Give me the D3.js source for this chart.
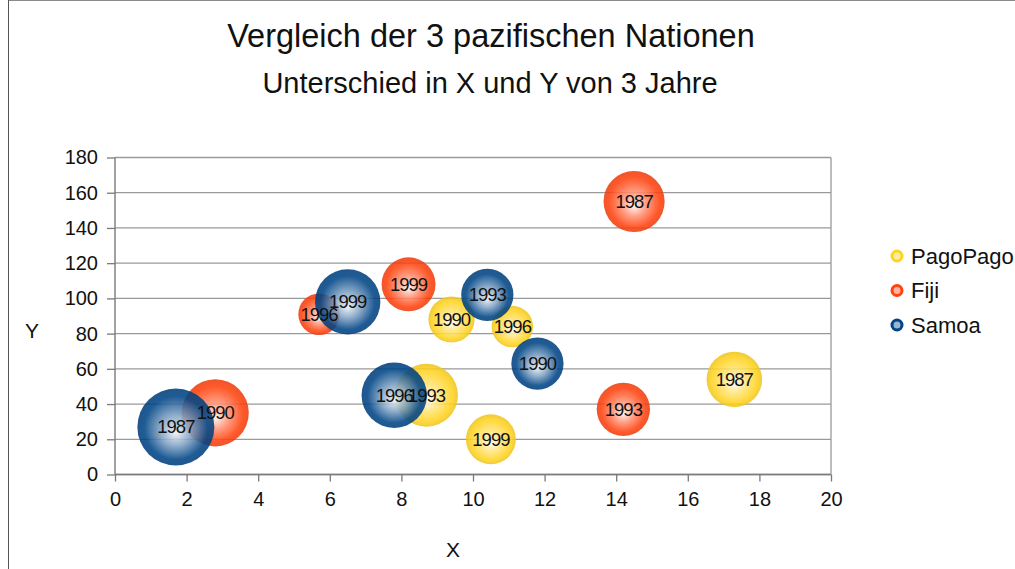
<!DOCTYPE html>
<html>
<head>
<meta charset="utf-8">
<script src="https://cdn.jsdelivr.net/npm/d3@7"></script>
<style>
  html, body { margin: 0; padding: 0; background: #fff; }
  svg { display: block; font-family: "Liberation Sans", Arial, sans-serif; }
</style>
</head>
<body>
<svg id="chart" width="1015" height="569"></svg>
<script>
// Years shown as bubble labels
const years = ["1987", "1990", "1993", "1996", "1999"];

// Series names (legend order) and colours
const seriesNames = ["PagoPago", "Fiji", "Samoa"];
const seriesColors = ["#ffd320", "#ff420e", "#004586"];

// X values per series, one per year
const pagoX = [17.3, 9.4, 8.7, 11.1, 10.5];
const fijiX = [14.5, 2.8, 14.2, 5.7, 8.2];
const samoaX = [1.7, 11.8, 10.4, 7.8, 6.5];

// Y values per series
const pagoY = [54, 88, 45, 84, 20];
const fijiY = [155, 35, 37, 91, 108];
const samoaY = [27, 63, 102, 45, 98];

// Bubble sizes per series (area-proportional)
const pagoSize = [52, 36, 67, 29, 42];
const fijiSize = [63, 76, 48, 29, 49];
const samoaSize = [100, 46, 46, 72, 72];

// Axis ticks
const xTicks = [0, 2, 4, 6, 8, 10, 12, 14, 16, 18, 20];
const yTicks = [0, 20, 40, 60, 80, 100, 120, 140, 160, 180];

const titleText = "Vergleich der 3 pazifischen Nationen";
const subtitleText = "Unterschied in X und Y von 3 Jahre";
const xTitle = "X";
const yTitle = "Y";

const seriesX = [pagoX, fijiX, samoaX];
const seriesY = [pagoY, fijiY, samoaY];
const seriesSize = [pagoSize, fijiSize, samoaSize];

const series = seriesNames.map((name, i) => ({
  name,
  color: seriesColors[i],
  points: years.map((yr, j) => ({
    year: yr, x: seriesX[i][j], y: seriesY[i][j], size: seriesSize[i][j]
  }))
}));

const svg = d3.select("#chart");
const W = 1015, H = 569;

// outer frame (top and left edges visible)
svg.append("line").attr("x1", 8).attr("x2", W).attr("y1", 0.5).attr("y2", 0.5)
  .attr("stroke", "#8a8a8a").attr("stroke-width", 1);
svg.append("line").attr("x1", 8.5).attr("x2", 8.5).attr("y1", 0).attr("y2", H)
  .attr("stroke", "#555").attr("stroke-width", 1);

const plot = { left: 115, right: 831, top: 157.5, bottom: 474.5 };

const x = d3.scaleLinear().domain([0, 20]).range([plot.left, plot.right]);
const y = d3.scaleLinear().domain([0, 180]).range([plot.bottom, plot.top]);
const allSizes = [...pagoSize, ...fijiSize, ...samoaSize];
const r = d3.scaleSqrt().domain([0, d3.max(allSizes)]).range([0, 38.5]);

// gradients: light centre, saturated rim
const defs = svg.append("defs");
const mix = (c, t) => d3.interpolateRgb(c, "#ffffff")(t);
series.forEach((s, i) => {
  const g = defs.append("radialGradient").attr("id", "grad" + i)
    .attr("cx", "50%").attr("cy", "50%").attr("r", "50%")
    .attr("fx", "50%").attr("fy", "58%");
  g.append("stop").attr("offset", "0%").attr("stop-color", mix(s.color, 0.92));
  g.append("stop").attr("offset", "40%").attr("stop-color", mix(s.color, i === 2 ? 0.5 : 0.42));
  g.append("stop").attr("offset", "82%").attr("stop-color", s.color);
  g.append("stop").attr("offset", "100%").attr("stop-color", d3.color(s.color).darker(0.2));
});

// horizontal gridlines
svg.append("g").selectAll("line").data(yTicks).join("line")
  .attr("x1", plot.left).attr("x2", plot.right)
  .attr("y1", d => y(d)).attr("y2", d => y(d))
  .attr("stroke", "#9a9a9a").attr("stroke-width", 1.3);

// right border of plot area
svg.append("line").attr("x1", plot.right).attr("x2", plot.right)
  .attr("y1", plot.top).attr("y2", plot.bottom)
  .attr("stroke", "#9a9a9a").attr("stroke-width", 1.3);

// axes
const xAxis = svg.append("g").attr("transform", `translate(0,${plot.bottom})`)
  .call(d3.axisBottom(x).tickValues(xTicks).tickSize(7).tickPadding(10).tickFormat(d3.format("d")));
const yAxis = svg.append("g").attr("transform", `translate(${plot.left},0)`)
  .call(d3.axisLeft(y).tickValues(yTicks).tickSize(8).tickPadding(9).tickFormat(d3.format("d")));
[xAxis, yAxis].forEach(a => {
  a.select(".domain").attr("stroke", "#7a7a7a").attr("stroke-width", 1.4);
  a.selectAll(".tick line").attr("stroke", "#7a7a7a").attr("stroke-width", 1.3);
  a.selectAll(".tick text").attr("fill", "#111").style("font-size", "20px")
    .style("font-family", "'Liberation Sans', Arial, sans-serif");
});
yAxis.select(".domain").attr("d", `M0,${plot.top}V${plot.bottom}`);
xAxis.select(".domain").attr("d", `M${plot.left},0H${plot.right}`);

// bubbles
const bubbles = svg.append("g");
series.forEach((s, i) => {
  bubbles.append("g").selectAll("circle").data(s.points).join("circle")
    .attr("cx", d => x(d.x)).attr("cy", d => y(d.y)).attr("r", d => r(d.size))
    .attr("fill", `url(#grad${i})`).attr("fill-opacity", 0.88);
});

// year labels
const labels = svg.append("g");
series.forEach(s => {
  labels.append("g").selectAll("text").data(s.points).join("text")
    .attr("x", d => x(d.x)).attr("y", d => y(d.y))
    .attr("text-anchor", "middle").attr("dominant-baseline", "central")
    .attr("fill", "#111").style("font-size", "18.5px").style("letter-spacing", "-1px")
    .text(d => d.year);
});

// titles
svg.append("text").attr("x", 491).attr("y", 47).attr("text-anchor", "middle")
  .style("font-size", "32.5px").attr("fill", "#111").text(titleText);
svg.append("text").attr("x", 490).attr("y", 93).attr("text-anchor", "middle")
  .style("font-size", "29px").attr("fill", "#111").text(subtitleText);
svg.append("text").attr("x", 453).attr("y", 557).attr("text-anchor", "middle")
  .style("font-size", "21px").attr("fill", "#111").text(xTitle);
svg.append("text").attr("x", 32).attr("y", 338).attr("text-anchor", "middle")
  .style("font-size", "21px").attr("fill", "#111").text(yTitle);

// legend
const legend = svg.append("g").attr("transform", "translate(897,256)");
series.forEach((s, i) => {
  const g = legend.append("g").attr("transform", `translate(0,${i * 34.5})`);
  g.append("circle").attr("r", 5).attr("fill", mix(s.color, 0.6))
    .attr("stroke", s.color).attr("stroke-width", 3);
  g.append("text").attr("x", 14).attr("y", 0).attr("dominant-baseline", "central")
    .style("font-size", "22px").attr("fill", "#111").text(s.name);
});
</script>
</body>
</html>
